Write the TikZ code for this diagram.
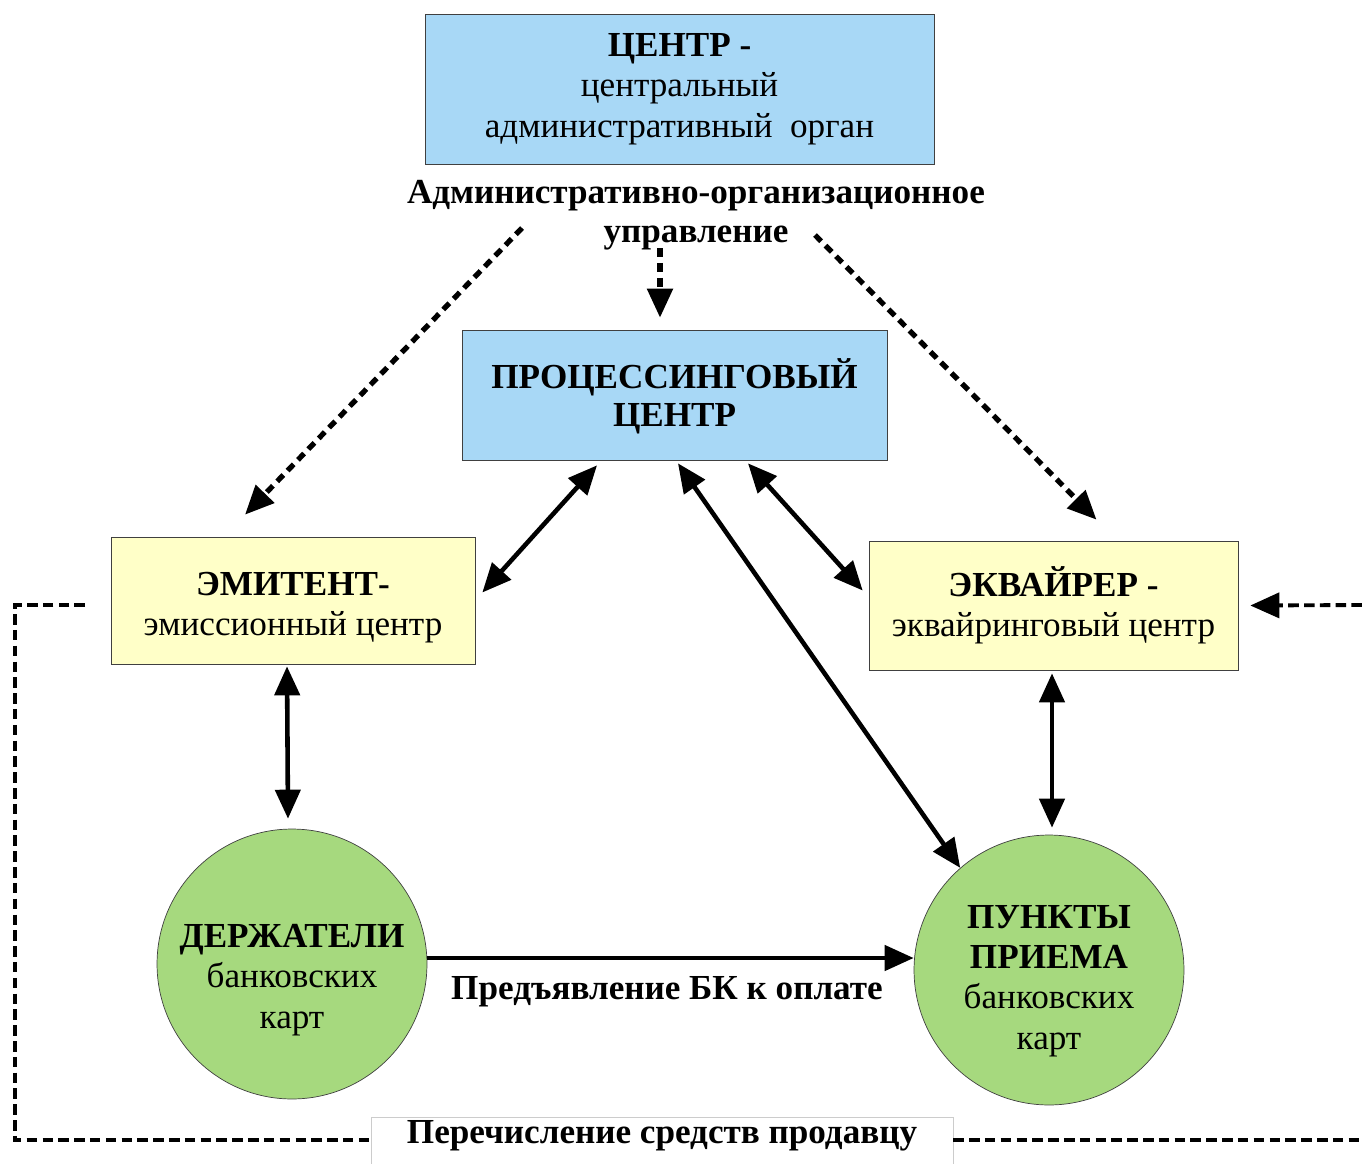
\documentclass[tikz,border=0pt]{standalone}
\usepackage{fontspec}
\setmainfont{Liberation Serif}
\usetikzlibrary{arrows.meta,calc}
\definecolor{boxblue}{HTML}{A8D8F6}
\definecolor{boxyellow}{HTML}{FFFFC8}
\definecolor{ovalgreen}{HTML}{A6D97E}
\tikzset{
  bluebox/.style={draw=black!75,fill=boxblue,thin,align=center,inner sep=0pt},
  yellowbox/.style={draw=black!75,fill=boxyellow,thin,align=center,inner sep=0pt},
  greenoval/.style={draw=black!75,fill=ovalgreen,thin,circle,align=center,inner sep=0pt,minimum size=5.4cm},
  boldlabel/.style={font=\fontsize{20}{22}\selectfont\bfseries},
  bigtip/.tip={Triangle[length=0.58cm,width=0.5cm]},
  twoway/.style={line width=2.6pt,{bigtip}-{bigtip}},
  oneway/.style={line width=2.6pt,-{bigtip}},
  dotarrow/.style={line width=3pt,dash pattern=on 5pt off 3.5pt,-{bigtip}},
  payline/.style={line width=1.8pt,dash pattern=on 6pt off 3pt}
}
\begin{document}
\begin{tikzpicture}[x=0.02cm,y=-0.02cm,font=\fontsize{20}{23}\selectfont]
\useasboundingbox (0,0) rectangle (1362,1163);

\node[bluebox,minimum width=10.18cm,minimum height=3cm] (centre) at (679.5,89)
  {\textbf{ЦЕНТР -}\\центральный\\административный\ \ орган};
\node[boldlabel,align=center] (admin) at (696,215)
  {Административно-организационное\\управление};
\node[bluebox,boldlabel,minimum width=8.5cm,minimum height=2.6cm] (proc) at (674.5,395)
  {\rule{0pt}{0.65cm}ПРОЦЕССИНГОВЫЙ\\ЦЕНТР};
\node[yellowbox,minimum width=7.28cm,minimum height=2.54cm] (emit) at (293,600.5)
  {\rule{0pt}{0.75cm}\textbf{ЭМИТЕНТ-}\\эмиссионный центр};
\node[yellowbox,minimum width=7.38cm,minimum height=2.58cm] (acq) at (1053.5,605.5)
  {\rule{0pt}{0.6cm}\textbf{ЭКВАЙРЕР -}\\эквайринговый центр};
\node[greenoval] (holders) at (292,964) {\rule{0pt}{1.1cm}\textbf{ДЕРЖАТЕЛИ}\\банковских\\карт};
\node[greenoval] (points) at (1049,970) {\rule{0pt}{0.9cm}\textbf{ПУНКТЫ}\\\textbf{ПРИЕМА}\\банковских\\карт};
\node[boldlabel] (present) at (667,992) {Предъявление БК к оплате};
\node[draw=black!20,fill=white,boldlabel,minimum width=11.64cm,inner ysep=0.25cm,
  text height=0.28cm,text depth=0.2cm,anchor=north] (transfer) at (662,1117) {Перечисление средств продавцу};

% administrative links
\coordinate (adl) at (522,228);
\coordinate (adm) at (660,248);
\coordinate (adr) at (815,235);
\coordinate (inr) at (1362,605);
\coordinate (outl) at (85,605);
\coordinate (outr) at (1362,1140);
\draw[dotarrow] (adl) -- ($(emit.north)+(-48,-22)$);
\draw[dotarrow] (adm) -- ($(proc.north)+(-14.5,-12)$);
\draw[dotarrow] (adr) -- ($(acq.north)+(43,-21)$);

% information flows
\draw[twoway] ($(emit.east)+(7,-8)$) -- ($(proc.south)+(-77.5,5)$);
\draw[twoway] ($(proc.south)+(73.5,3)$) -- ($(acq.west)+(-6,-15)$);
\draw[twoway] ($(proc.south)+(3.5,3)$) -- (points.131);
\draw[twoway] ($(emit.south)+(-6,2)$) -- ($(holders.north)+(-4,-10)$);
\draw[twoway] ($(acq.south)+(-1.5,3)$) -- ($(points.north)+(3,-7)$);
\draw[oneway] ($(holders.east)+(0,-6)$) -- ($(points.west)+(0,-12)$);

% payment to the seller
\draw[payline] (outl) -- (15,605) -- (15,1140) -- (transfer.west |- outr);
\draw[payline] (transfer.east |- outr) -- (outr);
\draw[payline,line width=2.2pt,-{bigtip}] (inr) -- ($(acq.east)+(12,0)$);

\end{tikzpicture}
\end{document}
